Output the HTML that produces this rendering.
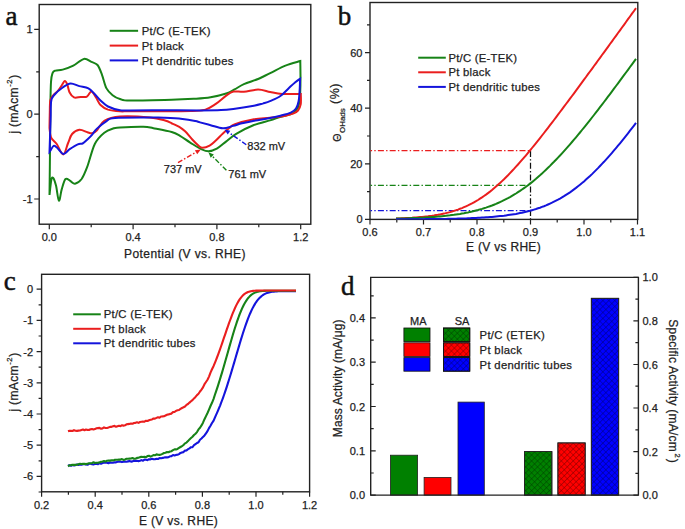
<!DOCTYPE html>
<html><head><meta charset="utf-8"><style>
html,body{margin:0;padding:0;background:#fff;width:685px;height:529px;overflow:hidden}
svg{display:block}
text{font-family:"Liberation Sans",sans-serif;fill:#222;stroke:#222;stroke-width:0.25px}
.serif{font-family:"Liberation Serif",serif;stroke-width:0.5px;fill:#111;stroke:#111}
</style></head><body>
<svg width="685" height="529" viewBox="0 0 685 529">
<rect width="685" height="529" fill="#fff"/>
<rect x="39.2" y="4.5" width="271.6" height="219.7" fill="none" stroke="#222" stroke-width="1.4"/>
<text x="49.3" y="240.6" font-size="11" text-anchor="middle" >0.0</text>
<text x="133.1" y="240.6" font-size="11" text-anchor="middle" >0.4</text>
<text x="216.9" y="240.6" font-size="11" text-anchor="middle" >0.8</text>
<text x="300.7" y="240.6" font-size="11" text-anchor="middle" >1.2</text>
<text x="32.5" y="203.0" font-size="11" text-anchor="end" >-1</text>
<text x="32.5" y="118.2" font-size="11" text-anchor="end" >0</text>
<text x="32.5" y="33.4" font-size="11" text-anchor="end" >1</text>
<path d="M49.3,224.2v5 M91.2,224.2v3 M133.1,224.2v5 M175.0,224.2v3 M216.9,224.2v5 M258.8,224.2v3 M300.7,224.2v5 M39.2,199.0h-5 M39.2,156.6h-3 M39.2,114.2h-5 M39.2,71.8h-3 M39.2,29.4h-5" stroke="#222" stroke-width="1.2" fill="none"/>
<text x="185" y="257.5" font-size="12" text-anchor="middle" letter-spacing="0.4">Potential (V vs. RHE)</text>
<text transform="translate(18.2,104) rotate(-90)" font-size="12" text-anchor="middle" letter-spacing="0.35">j (mAcm<tspan font-size="7.5" dy="-6" dx="0.5">-2</tspan><tspan dy="6" dx="0.5">)</tspan></text>
<text x="5.5" y="24.8" class="serif" font-size="27">a</text>
<line x1="109.7" y1="30.8" x2="138.1" y2="30.8" stroke="#178317" stroke-width="2"/>
<text x="141.8" y="34.9" font-size="11.3" text-anchor="start" letter-spacing="0.25">Pt/C (E-TEK)</text>
<line x1="109.7" y1="45.6" x2="138.1" y2="45.6" stroke="#ea1e1e" stroke-width="2"/>
<text x="141.8" y="49.7" font-size="11.3" text-anchor="start" letter-spacing="0.25">Pt black</text>
<line x1="109.7" y1="60.400000000000006" x2="138.1" y2="60.400000000000006" stroke="#1414dc" stroke-width="2"/>
<text x="141.8" y="64.5" font-size="11.3" text-anchor="start" letter-spacing="0.25">Pt dendritic tubes</text>
<path d="M49.5,195.0 C49.6,187.5 49.9,164.2 50.0,150.0 C50.1,135.8 50.1,121.3 50.3,110.0 C50.5,98.7 50.6,88.2 51.0,82.0 C51.4,75.8 51.9,74.9 52.6,73.0 C53.4,71.1 53.8,71.2 55.5,70.6 C57.2,70.0 59.7,70.4 62.7,69.6 C65.7,68.8 69.8,67.5 73.3,65.7 C76.8,63.9 80.9,59.5 83.9,58.9 C86.9,58.3 89.1,60.9 91.4,61.9 C93.7,62.9 95.7,62.9 97.5,65.0 C99.3,67.2 100.5,70.9 102.0,74.8 C103.5,78.7 104.7,85.0 106.5,88.4 C108.3,91.8 110.3,93.4 112.6,95.2 C114.8,97.0 117.1,98.1 120.0,99.0 C122.9,99.9 121.5,100.5 130.1,100.6 C138.7,100.7 160.9,100.1 171.7,99.8 C182.5,99.5 188.5,99.1 195.0,98.7 C201.5,98.3 205.4,98.1 210.6,97.2 C215.8,96.3 222.2,94.8 226.2,93.5 C230.2,92.2 231.6,91.0 234.5,89.4 C237.4,87.9 240.0,85.9 243.9,84.2 C247.8,82.5 253.7,80.8 258.1,79.0 C262.5,77.2 265.6,75.3 270.2,73.1 C274.8,70.9 280.4,67.6 285.4,65.6 C290.4,63.6 297.8,61.8 300.3,61.0 L300.3,61.0 C300.3,63.7 300.5,71.7 300.5,77.0 C300.5,82.3 300.4,88.5 300.2,93.0 C299.9,97.5 299.6,101.2 299.0,104.0 C298.4,106.8 297.8,108.3 296.5,110.0 C295.2,111.7 293.8,112.8 291.0,114.0 C288.2,115.2 283.5,115.9 280.0,117.0 C276.5,118.1 274.4,119.1 270.0,120.4 C265.6,121.7 259.5,122.8 253.9,125.0 C248.3,127.2 240.8,131.1 236.2,133.9 C231.5,136.7 229.2,139.1 226.0,141.6 C222.8,144.1 219.7,147.1 216.8,148.7 C213.9,150.3 211.3,151.3 208.6,151.3 C205.9,151.3 203.5,150.1 200.4,148.7 C197.3,147.2 193.6,144.7 190.2,142.6 C186.8,140.5 183.1,137.7 180.0,135.9 C176.9,134.1 176.1,133.3 171.7,132.0 C167.3,130.7 158.1,129.1 153.4,128.2 C148.7,127.3 149.0,126.9 143.4,126.8 C137.8,126.7 125.0,127.2 120.0,127.5 C115.0,127.8 116.3,127.4 113.7,128.3 C111.1,129.2 107.5,130.1 104.3,132.7 C101.1,135.3 97.6,138.3 94.8,144.0 C92.0,149.7 89.5,160.9 87.3,166.7 C85.1,172.5 83.6,176.2 81.6,179.0 C79.5,181.8 76.9,183.4 75.0,183.7 C73.1,184.0 71.8,181.7 70.2,180.9 C68.6,180.1 66.9,177.6 65.5,179.0 C64.1,180.4 62.8,185.8 61.7,189.4 C60.6,193.0 59.9,201.3 58.9,200.7 C57.9,200.1 57.0,189.4 56.0,185.6 C55.0,181.8 54.0,178.9 53.2,178.0 C52.4,177.1 51.9,177.2 51.3,180.0 C50.7,182.8 49.8,192.5 49.5,195.0Z" fill="none" stroke="#178317" stroke-width="2" stroke-linejoin="miter"/>
<path d="M49.5,128.0 C49.5,125.3 49.7,116.6 49.8,112.0 C49.9,107.4 49.8,103.2 50.3,100.5 C50.8,97.8 51.7,97.2 53.0,95.5 C54.3,93.8 56.6,92.4 58.1,90.6 C59.6,88.8 61.0,86.4 62.1,84.8 C63.2,83.2 63.9,81.1 64.7,81.0 C65.5,80.9 66.4,82.3 67.2,84.2 C68.0,86.1 68.4,90.0 69.5,92.2 C70.6,94.4 72.1,96.6 74.0,97.4 C75.9,98.2 78.6,97.0 80.8,96.9 C83.0,96.8 85.1,97.6 86.9,96.7 C88.7,95.8 89.9,91.3 91.4,91.4 C92.9,91.5 94.5,95.2 96.0,97.5 C97.5,99.8 98.5,103.0 100.5,105.0 C102.5,107.0 104.8,108.5 108.0,109.6 C111.2,110.6 115.7,111.0 120.0,111.3 C124.3,111.6 122.1,111.2 133.9,111.2 C145.7,111.2 178.7,111.3 190.6,111.0 C202.5,110.7 201.2,110.8 205.4,109.6 C209.6,108.4 212.3,106.2 215.8,103.9 C219.3,101.6 223.2,97.6 226.2,95.6 C229.1,93.5 230.6,92.2 233.5,91.6 C236.4,91.0 239.8,92.1 243.9,91.8 C248.0,91.5 253.7,89.5 258.1,89.5 C262.5,89.5 266.2,91.2 270.2,92.0 C274.2,92.8 277.2,93.7 282.3,94.0 C287.4,94.3 297.7,94.0 300.8,94.0 L300.8,94.0 C300.8,95.7 301.2,101.5 300.7,104.3 C300.2,107.0 299.3,108.9 298.0,110.5 C296.7,112.1 295.0,112.8 292.9,113.7 C290.8,114.6 289.4,115.0 285.6,115.7 C281.8,116.4 275.3,117.2 270.0,117.8 C264.7,118.4 259.7,118.2 253.9,119.3 C248.1,120.4 239.2,122.7 235.0,124.2 C230.8,125.7 231.0,126.8 229.0,128.3 C227.0,129.8 225.1,131.4 222.9,133.4 C220.7,135.4 218.0,138.5 215.8,140.5 C213.6,142.5 211.8,144.4 209.6,145.6 C207.4,146.8 204.4,147.7 202.5,147.7 C200.6,147.7 200.1,147.0 198.4,145.6 C196.7,144.2 194.5,141.9 192.3,139.5 C190.1,137.1 187.2,133.3 185.1,131.3 C183.0,129.3 182.2,128.6 180.0,127.3 C177.8,126.0 174.5,124.6 172.0,123.5 C169.5,122.4 168.7,121.5 165.0,120.5 C161.3,119.5 157.5,118.2 150.0,117.5 C142.5,116.8 127.6,116.0 120.0,116.5 C112.4,117.0 108.1,118.5 104.3,120.8 C100.5,123.1 99.0,128.1 97.0,130.2 C95.0,132.3 93.8,132.9 92.2,133.2 C90.6,133.5 89.5,132.8 87.4,132.2 C85.3,131.6 82.0,129.5 79.4,129.8 C76.9,130.1 74.0,131.8 72.1,134.0 C70.2,136.2 69.6,139.6 68.1,143.0 C66.6,146.4 65.2,154.3 63.3,154.5 C61.4,154.7 58.9,147.2 56.9,144.3 C54.9,141.5 52.2,140.1 51.0,137.4 C49.8,134.7 49.8,129.6 49.5,128.0Z" fill="none" stroke="#ea1e1e" stroke-width="2" stroke-linejoin="miter"/>
<path d="M49.5,152.0 C49.7,146.7 50.3,128.5 50.6,120.0 C50.9,111.5 50.5,105.2 51.2,101.0 C51.9,96.8 52.8,96.8 54.7,94.5 C56.6,92.2 60.1,89.3 62.7,87.5 C65.3,85.7 67.8,83.6 70.6,83.4 C73.4,83.2 76.3,85.3 79.3,86.1 C82.3,86.9 85.9,87.1 88.4,88.4 C90.9,89.7 92.4,91.7 94.4,93.7 C96.4,95.7 98.2,98.4 100.5,100.5 C102.8,102.6 104.8,104.9 108.0,106.5 C111.2,108.1 116.3,109.6 120.0,110.3 C123.7,111.0 122.5,110.4 130.0,110.4 C137.5,110.4 153.3,110.3 165.0,110.3 C176.7,110.3 190.7,110.4 200.0,110.4 C209.3,110.4 215.2,110.4 221.0,110.1 C226.8,109.8 229.5,109.4 235.0,108.7 C240.5,108.0 249.3,106.6 253.9,105.7 C258.5,104.8 260.0,104.3 262.7,103.6 C265.4,102.8 267.1,102.5 270.0,101.2 C272.9,99.9 277.3,98.2 280.4,96.0 C283.5,93.8 286.3,90.5 288.7,88.2 C291.1,86.0 293.1,84.1 295.0,82.5 C296.9,80.9 299.2,79.4 300.1,78.8 L300.1,78.8 C300.0,80.8 299.9,87.1 299.6,90.8 C299.4,94.5 299.2,98.2 298.6,101.2 C298.0,104.2 297.3,106.6 296.0,108.5 C294.7,110.4 293.4,111.4 290.8,112.6 C288.2,113.8 283.9,114.8 280.4,115.7 C276.9,116.6 274.4,117.2 270.0,118.0 C265.6,118.8 258.6,119.9 253.9,120.8 C249.2,121.7 245.3,122.4 241.8,123.3 C238.3,124.2 236.2,125.1 233.1,125.9 C229.9,126.7 226.7,128.4 222.9,128.3 C219.2,128.2 214.4,126.2 210.6,125.2 C206.8,124.2 202.6,123.1 200.0,122.4 C197.4,121.7 198.2,121.7 195.3,121.1 C192.4,120.5 187.6,119.5 182.5,118.9 C177.4,118.3 169.9,117.9 165.0,117.7 C160.1,117.5 161.1,117.5 152.8,117.6 C144.5,117.6 122.8,117.4 115.0,118.0 C107.2,118.6 109.2,119.5 106.2,121.3 C103.2,123.1 99.0,126.7 96.7,128.9 C94.4,131.1 93.8,132.8 92.2,134.6 C90.7,136.4 89.0,138.0 87.4,139.5 C85.8,141.0 84.2,142.7 82.6,143.5 C81.0,144.3 79.9,143.4 77.8,144.3 C75.7,145.2 72.1,147.5 69.7,149.1 C67.3,150.7 65.4,154.3 63.3,154.0 C61.2,153.7 58.5,148.8 56.9,147.5 C55.3,146.2 54.7,145.4 53.6,145.9 C52.5,146.4 51.2,149.5 50.5,150.5 C49.8,151.5 49.7,151.8 49.5,152.0Z" fill="none" stroke="#1414dc" stroke-width="2" stroke-linejoin="miter"/>
<line x1="178" y1="162.7" x2="196.0" y2="152.2" stroke="#ea1e1e" stroke-width="1.4" stroke-dasharray="5 2 1.5 2"/>
<path d="M200.8,149.4 L197.2,154.2 L194.9,150.2Z" fill="#ea1e1e"/>
<line x1="226.4" y1="170.3" x2="212.3" y2="156.2" stroke="#178317" stroke-width="1.4" stroke-dasharray="5 2 1.5 2"/>
<path d="M208.4,152.3 L213.9,154.6 L210.7,157.8Z" fill="#178317"/>
<line x1="246.3" y1="144.7" x2="229.0" y2="132.6" stroke="#1414dc" stroke-width="1.4" stroke-dasharray="5 2 1.5 2"/>
<path d="M224.5,129.5 L230.3,130.8 L227.7,134.5Z" fill="#1414dc"/>
<text x="163.8" y="173.1" font-size="11" text-anchor="start" >737 mV</text>
<text x="228.3" y="177.9" font-size="11" text-anchor="start" >761 mV</text>
<text x="247.3" y="150.4" font-size="11" text-anchor="start" >832 mV</text>
<rect x="370.0" y="2.5" width="267.79999999999995" height="216.9" fill="none" stroke="#222" stroke-width="1.4"/>
<text x="370.0" y="235.8" font-size="11" text-anchor="middle" >0.6</text>
<text x="423.5" y="235.8" font-size="11" text-anchor="middle" >0.7</text>
<text x="477.0" y="235.8" font-size="11" text-anchor="middle" >0.8</text>
<text x="530.5" y="235.8" font-size="11" text-anchor="middle" >0.9</text>
<text x="584.0" y="235.8" font-size="11" text-anchor="middle" >1.0</text>
<text x="637.5" y="235.8" font-size="11" text-anchor="middle" >1.1</text>
<text x="362.5" y="223.4" font-size="11" text-anchor="end" >0</text>
<text x="362.5" y="167.8" font-size="11" text-anchor="end" >20</text>
<text x="362.5" y="112.2" font-size="11" text-anchor="end" >40</text>
<text x="362.5" y="56.6" font-size="11" text-anchor="end" >60</text>
<path d="M370.0,219.4v5 M396.8,219.4v3 M423.5,219.4v5 M450.2,219.4v3 M477.0,219.4v5 M503.8,219.4v3 M530.5,219.4v5 M557.2,219.4v3 M584.0,219.4v5 M610.8,219.4v3 M637.5,219.4v5 M370.0,219.4h-5 M370.0,191.6h-3 M370.0,163.8h-5 M370.0,136.0h-3 M370.0,108.2h-5 M370.0,80.4h-3 M370.0,52.6h-5 M370.0,24.8h-3" stroke="#222" stroke-width="1.2" fill="none"/>
<text x="503.5" y="251.3" font-size="12" text-anchor="middle" letter-spacing="0.3">E (V vs RHE)</text>
<text transform="translate(340.6,112.3) rotate(-90)" font-size="12" text-anchor="middle"><tspan font-size="10.5">Θ</tspan><tspan font-size="8" dy="4" dx="0.5">OHads</tspan><tspan dy="-5.5" font-size="12.5" letter-spacing="0.6"> (%)</tspan></text>
<text x="337.8" y="24.6" class="serif" font-size="27">b</text>
<line x1="418.2" y1="57.7" x2="445.8" y2="57.7" stroke="#178317" stroke-width="2"/>
<text x="448.4" y="61.8" font-size="11.3" text-anchor="start" letter-spacing="0.25">Pt/C (E-TEK)</text>
<line x1="418.2" y1="72.3" x2="445.8" y2="72.3" stroke="#ea1e1e" stroke-width="2"/>
<text x="448.4" y="76.4" font-size="11.3" text-anchor="start" letter-spacing="0.25">Pt black</text>
<line x1="418.2" y1="86.9" x2="445.8" y2="86.9" stroke="#1414dc" stroke-width="2"/>
<text x="448.4" y="91.0" font-size="11.3" text-anchor="start" letter-spacing="0.25">Pt dendritic tubes</text>
<g stroke-width="1.25" stroke-dasharray="6 2.2 1.4 2.2" stroke-dashoffset="4.4" fill="none"><line x1="370.5" y1="150.6" x2="530.5" y2="150.6" stroke="#ea1e1e"/><line x1="370.5" y1="185.3" x2="530.5" y2="185.3" stroke="#178317"/><line x1="370.5" y1="210.5" x2="530.5" y2="210.5" stroke="#1414dc"/><line x1="530.5" y1="151" x2="530.5" y2="219" stroke="#111" stroke-dashoffset="0"/></g>
<clipPath id="clipb"><rect x="370" y="2.5" width="267.8" height="216.9"/></clipPath>
<path d="M396.0,218.6 L398.0,218.5 L400.0,218.4 L402.0,218.3 L404.0,218.2 L406.0,218.1 L408.0,218.0 L410.0,217.9 L412.0,217.8 L414.0,217.6 L416.0,217.5 L418.0,217.3 L420.0,217.1 L422.0,217.0 L424.0,216.7 L426.0,216.5 L428.0,216.3 L430.0,216.0 L432.0,215.8 L434.0,215.5 L436.0,215.1 L438.0,214.8 L440.0,214.4 L442.0,214.0 L444.0,213.6 L446.0,213.1 L448.0,212.6 L450.0,212.1 L452.0,211.5 L454.0,210.9 L456.0,210.3 L458.0,209.6 L460.0,208.8 L462.0,208.1 L464.0,207.2 L466.0,206.3 L468.0,205.4 L470.0,204.4 L472.0,203.4 L474.0,202.3 L476.0,201.2 L478.0,200.0 L480.0,198.7 L482.0,197.4 L484.0,196.0 L486.0,194.6 L488.0,193.1 L490.0,191.6 L492.0,190.0 L494.0,188.3 L496.0,186.6 L498.0,184.8 L500.0,183.0 L502.0,181.1 L504.0,179.2 L506.0,177.2 L508.0,175.2 L510.0,173.1 L512.0,171.0 L514.0,168.9 L516.0,166.7 L518.0,164.5 L520.0,162.2 L522.0,159.9 L524.0,157.6 L526.0,155.3 L528.0,152.9 L530.0,150.5 L532.0,148.0 L534.0,145.6 L536.0,143.1 L538.0,140.6 L540.0,138.1 L542.0,135.5 L544.0,133.0 L546.0,130.4 L548.0,127.8 L550.0,125.2 L552.0,122.6 L554.0,120.0 L556.0,117.3 L558.0,114.7 L560.0,112.0 L562.0,109.4 L564.0,106.7 L566.0,104.0 L568.0,101.4 L570.0,98.7 L572.0,96.0 L574.0,93.3 L576.0,90.6 L578.0,87.8 L580.0,85.1 L582.0,82.4 L584.0,79.7 L586.0,77.0 L588.0,74.2 L590.0,71.5 L592.0,68.8 L594.0,66.0 L596.0,63.3 L598.0,60.5 L600.0,57.8 L602.0,55.0 L604.0,52.3 L606.0,49.6 L608.0,46.8 L610.0,44.0 L612.0,41.3 L614.0,38.5 L616.0,35.8 L618.0,33.0 L620.0,30.3 L622.0,27.5 L624.0,24.8 L626.0,22.0 L628.0,19.2 L630.0,16.5 L632.0,13.7 L634.0,11.0 L636.0,8.2" fill="none" stroke="#ea1e1e" stroke-width="2" clip-path="url(#clipb)"/>
<path d="M396.0,218.6 L398.0,218.6 L400.0,218.5 L402.0,218.5 L404.0,218.4 L406.0,218.4 L408.0,218.3 L410.0,218.2 L412.0,218.1 L414.0,218.1 L416.0,218.0 L418.0,217.9 L420.0,217.8 L422.0,217.7 L424.0,217.6 L426.0,217.4 L428.0,217.3 L430.0,217.2 L432.0,217.0 L434.0,216.9 L436.0,216.7 L438.0,216.6 L440.0,216.4 L442.0,216.2 L444.0,216.0 L446.0,215.8 L448.0,215.5 L450.0,215.3 L452.0,215.0 L454.0,214.8 L456.0,214.5 L458.0,214.2 L460.0,213.9 L462.0,213.5 L464.0,213.2 L466.0,212.8 L468.0,212.4 L470.0,211.9 L472.0,211.5 L474.0,211.0 L476.0,210.5 L478.0,210.0 L480.0,209.4 L482.0,208.9 L484.0,208.2 L486.0,207.6 L488.0,206.9 L490.0,206.2 L492.0,205.5 L494.0,204.7 L496.0,203.9 L498.0,203.0 L500.0,202.1 L502.0,201.2 L504.0,200.2 L506.0,199.2 L508.0,198.2 L510.0,197.1 L512.0,195.9 L514.0,194.7 L516.0,193.5 L518.0,192.2 L520.0,190.9 L522.0,189.5 L524.0,188.1 L526.0,186.7 L528.0,185.2 L530.0,183.6 L532.0,182.1 L534.0,180.4 L536.0,178.8 L538.0,177.0 L540.0,175.3 L542.0,173.5 L544.0,171.6 L546.0,169.7 L548.0,167.8 L550.0,165.9 L552.0,163.8 L554.0,161.8 L556.0,159.7 L558.0,157.6 L560.0,155.5 L562.0,153.3 L564.0,151.1 L566.0,148.9 L568.0,146.6 L570.0,144.3 L572.0,142.0 L574.0,139.6 L576.0,137.3 L578.0,134.9 L580.0,132.5 L582.0,130.0 L584.0,127.6 L586.0,125.1 L588.0,122.6 L590.0,120.1 L592.0,117.5 L594.0,115.0 L596.0,112.4 L598.0,109.8 L600.0,107.2 L602.0,104.6 L604.0,102.0 L606.0,99.4 L608.0,96.7 L610.0,94.1 L612.0,91.4 L614.0,88.7 L616.0,86.0 L618.0,83.4 L620.0,80.7 L622.0,77.9 L624.0,75.2 L626.0,72.5 L628.0,69.8 L630.0,67.0 L632.0,64.3 L634.0,61.6 L636.0,58.8" fill="none" stroke="#178317" stroke-width="2" clip-path="url(#clipb)"/>
<path d="M396.0,219.3 L398.0,219.3 L400.0,219.3 L402.0,219.3 L404.0,219.3 L406.0,219.3 L408.0,219.3 L410.0,219.2 L412.0,219.2 L414.0,219.2 L416.0,219.2 L418.0,219.2 L420.0,219.2 L422.0,219.2 L424.0,219.2 L426.0,219.1 L428.0,219.1 L430.0,219.1 L432.0,219.1 L434.0,219.0 L436.0,219.0 L438.0,219.0 L440.0,219.0 L442.0,218.9 L444.0,218.9 L446.0,218.9 L448.0,218.8 L450.0,218.8 L452.0,218.8 L454.0,218.7 L456.0,218.7 L458.0,218.6 L460.0,218.5 L462.0,218.5 L464.0,218.4 L466.0,218.4 L468.0,218.3 L470.0,218.2 L472.0,218.1 L474.0,218.0 L476.0,217.9 L478.0,217.8 L480.0,217.7 L482.0,217.6 L484.0,217.5 L486.0,217.3 L488.0,217.2 L490.0,217.0 L492.0,216.9 L494.0,216.7 L496.0,216.5 L498.0,216.3 L500.0,216.1 L502.0,215.9 L504.0,215.7 L506.0,215.4 L508.0,215.1 L510.0,214.8 L512.0,214.5 L514.0,214.2 L516.0,213.9 L518.0,213.5 L520.0,213.1 L522.0,212.7 L524.0,212.2 L526.0,211.8 L528.0,211.3 L530.0,210.8 L532.0,210.2 L534.0,209.6 L536.0,209.0 L538.0,208.3 L540.0,207.7 L542.0,206.9 L544.0,206.2 L546.0,205.4 L548.0,204.5 L550.0,203.6 L552.0,202.7 L554.0,201.7 L556.0,200.7 L558.0,199.7 L560.0,198.6 L562.0,197.4 L564.0,196.2 L566.0,194.9 L568.0,193.6 L570.0,192.3 L572.0,190.9 L574.0,189.4 L576.0,187.9 L578.0,186.3 L580.0,184.7 L582.0,183.1 L584.0,181.4 L586.0,179.6 L588.0,177.8 L590.0,176.0 L592.0,174.1 L594.0,172.1 L596.0,170.1 L598.0,168.1 L600.0,166.0 L602.0,163.9 L604.0,161.8 L606.0,159.6 L608.0,157.3 L610.0,155.1 L612.0,152.8 L614.0,150.4 L616.0,148.1 L618.0,145.7 L620.0,143.3 L622.0,140.8 L624.0,138.3 L626.0,135.8 L628.0,133.3 L630.0,130.7 L632.0,128.2 L634.0,125.6 L636.0,122.9" fill="none" stroke="#1414dc" stroke-width="2" clip-path="url(#clipb)"/>
<rect x="41.6" y="274.3" width="268.0" height="217.5" fill="none" stroke="#222" stroke-width="1.4"/>
<text x="41.6" y="508.5" font-size="11" text-anchor="middle" >0.2</text>
<text x="95.2" y="508.5" font-size="11" text-anchor="middle" >0.4</text>
<text x="148.8" y="508.5" font-size="11" text-anchor="middle" >0.6</text>
<text x="202.4" y="508.5" font-size="11" text-anchor="middle" >0.8</text>
<text x="256.0" y="508.5" font-size="11" text-anchor="middle" >1.0</text>
<text x="309.6" y="508.5" font-size="11" text-anchor="middle" >1.2</text>
<text x="33" y="293.2" font-size="11" text-anchor="end" >0</text>
<text x="33" y="324.4" font-size="11" text-anchor="end" >-1</text>
<text x="33" y="355.6" font-size="11" text-anchor="end" >-2</text>
<text x="33" y="386.8" font-size="11" text-anchor="end" >-3</text>
<text x="33" y="418.0" font-size="11" text-anchor="end" >-4</text>
<text x="33" y="449.2" font-size="11" text-anchor="end" >-5</text>
<text x="33" y="480.4" font-size="11" text-anchor="end" >-6</text>
<path d="M41.6,491.8v5 M68.4,491.8v3 M95.2,491.8v5 M122.0,491.8v3 M148.8,491.8v5 M175.6,491.8v3 M202.4,491.8v5 M229.2,491.8v3 M256.0,491.8v5 M282.8,491.8v3 M309.6,491.8v5 M41.6,289.2h-5 M41.6,304.8h-3 M41.6,320.4h-5 M41.6,336.0h-3 M41.6,351.6h-5 M41.6,367.2h-3 M41.6,382.8h-5 M41.6,398.4h-3 M41.6,414.0h-5 M41.6,429.6h-3 M41.6,445.2h-5 M41.6,460.8h-3 M41.6,476.4h-5 M41.6,492.0h-3" stroke="#222" stroke-width="1.2" fill="none"/>
<text x="178.5" y="524.7" font-size="12" text-anchor="middle" letter-spacing="0.35">E (V vs. RHE)</text>
<text transform="translate(18.0,382) rotate(-90)" font-size="12" text-anchor="middle" letter-spacing="0.35">j (mAcm<tspan font-size="7.5" dy="-6" dx="0.5">-2</tspan><tspan dy="6" dx="0.5">)</tspan></text>
<text x="3.8" y="289.8" class="serif" font-size="27">c</text>
<line x1="73.2" y1="314.3" x2="100.8" y2="314.3" stroke="#178317" stroke-width="2"/>
<text x="103.8" y="318.4" font-size="11.3" text-anchor="start" letter-spacing="0.25">Pt/C (E-TEK)</text>
<line x1="73.2" y1="328.8" x2="100.8" y2="328.8" stroke="#ea1e1e" stroke-width="2"/>
<text x="103.8" y="332.9" font-size="11.3" text-anchor="start" letter-spacing="0.25">Pt black</text>
<line x1="73.2" y1="343.3" x2="100.8" y2="343.3" stroke="#1414dc" stroke-width="2"/>
<text x="103.8" y="347.4" font-size="11.3" text-anchor="start" letter-spacing="0.25">Pt dendritic tubes</text>
<path d="M68.0,465.6 L69.5,465.3 L71.0,465.8 L72.5,465.0 L74.0,465.4 L75.5,465.1 L77.0,464.6 L78.5,465.0 L80.0,464.4 L81.5,464.7 L83.0,464.2 L84.5,464.1 L86.0,464.4 L87.5,464.8 L89.0,463.8 L90.5,463.8 L92.0,464.2 L93.5,464.5 L95.0,463.9 L96.5,463.6 L98.0,464.2 L99.5,463.0 L101.0,463.8 L102.5,463.0 L104.0,462.8 L105.5,462.6 L107.0,462.7 L108.5,463.2 L110.0,462.4 L111.5,462.8 L113.0,462.7 L114.5,462.3 L116.0,462.4 L117.5,461.7 L119.0,461.6 L120.5,461.7 L122.0,462.1 L123.5,461.7 L125.0,461.5 L126.5,461.7 L128.0,461.4 L129.5,461.1 L131.0,461.6 L132.5,461.4 L134.0,460.7 L135.5,461.0 L137.0,460.8 L138.5,461.1 L140.0,460.8 L141.5,460.1 L143.0,460.8 L144.5,459.6 L146.0,459.8 L147.5,460.1 L149.0,459.2 L150.5,459.4 L152.0,458.7 L153.5,459.3 L155.0,459.2 L156.5,458.8 L158.0,459.0 L159.5,458.1 L161.0,458.3 L162.5,457.9 L164.0,457.6 L165.5,457.2 L167.0,457.4 L168.5,457.2 L170.0,456.3 L171.5,456.1 L173.0,455.0 L174.5,455.4 L176.0,454.9 L177.5,454.8 L179.0,454.1 L180.5,452.9 L182.0,452.4 L183.5,452.1 L185.0,450.6 L186.5,450.4 L188.0,449.2 L189.5,448.3 L191.0,447.2 L192.5,447.1 L194.0,445.2 L195.5,444.1 L197.0,443.0 L198.5,442.2 L200.0,439.7 L201.5,438.5 L203.0,436.9 L204.5,435.4 L206.0,433.3 L207.5,431.1 L209.0,428.1 L210.5,425.8 L212.0,423.0 L213.5,420.8 L215.0,417.3 L216.0,415.1 L217.0,412.9 L218.0,410.6 L219.0,408.2 L220.0,405.8 L221.0,403.2 L222.0,400.5 L223.0,397.8 L224.0,395.0 L225.0,392.1 L226.0,389.1 L227.0,386.1 L228.0,382.9 L229.0,379.8 L230.0,376.5 L231.0,373.2 L232.0,369.9 L233.0,366.5 L234.0,363.1 L235.0,359.7 L236.0,356.3 L237.0,352.9 L238.0,349.5 L239.0,346.1 L240.0,342.7 L241.0,339.4 L242.0,336.2 L243.0,333.0 L244.0,330.0 L245.0,327.0 L246.0,324.1 L247.0,321.3 L248.0,318.6 L249.0,316.1 L250.0,313.7 L251.0,311.5 L252.0,309.4 L253.0,307.4 L254.0,305.6 L255.0,303.9 L256.0,302.3 L257.0,300.9 L258.0,299.6 L259.0,298.5 L260.0,297.5 L261.0,296.6 L262.0,295.8 L263.0,295.0 L264.0,294.4 L265.0,293.9 L266.0,293.4 L267.0,293.0 L268.0,292.7 L269.0,292.4 L270.0,292.2 L271.0,292.0 L272.0,291.8 L273.0,291.7 L274.0,291.6 L275.0,291.5 L276.0,291.4 L277.0,291.4 L278.0,291.3 L279.0,291.3 L280.0,291.3 L281.0,291.2 L282.0,291.2 L283.0,291.2 L284.0,291.2 L285.0,291.2 L286.0,291.2 L287.0,291.2 L288.0,291.2 L289.0,291.2 L290.0,291.2 L291.0,291.2 L292.0,291.2 L293.0,291.2 L294.0,291.2 L295.0,291.2 L296.0,291.2" fill="none" stroke="#1414dc" stroke-width="2.1" stroke-linejoin="round"/>
<path d="M68.0,466.4 L69.5,465.2 L71.0,465.1 L72.5,464.9 L74.0,464.7 L75.5,464.9 L77.0,464.8 L78.5,464.2 L80.0,463.7 L81.5,464.0 L83.0,463.8 L84.5,463.9 L86.0,464.1 L87.5,463.7 L89.0,463.3 L90.5,463.2 L92.0,463.1 L93.5,462.2 L95.0,463.0 L96.5,462.7 L98.0,462.7 L99.5,462.4 L101.0,461.8 L102.5,461.6 L104.0,461.1 L105.5,461.6 L107.0,460.7 L108.5,460.6 L110.0,460.6 L111.5,460.4 L113.0,460.4 L114.5,459.9 L116.0,459.7 L117.5,459.7 L119.0,459.5 L120.5,459.6 L122.0,459.1 L123.5,459.9 L125.0,459.4 L126.5,458.7 L128.0,458.7 L129.5,458.6 L131.0,458.5 L132.5,458.0 L134.0,458.7 L135.5,458.7 L137.0,457.9 L138.5,457.7 L140.0,457.1 L141.5,456.9 L143.0,457.0 L144.5,456.7 L146.0,457.2 L147.5,456.1 L149.0,455.7 L150.5,456.6 L152.0,455.9 L153.5,455.1 L155.0,455.3 L156.5,454.4 L158.0,454.7 L159.5,454.9 L161.0,454.5 L162.5,453.9 L164.0,453.0 L165.5,452.7 L167.0,452.0 L168.5,452.3 L170.0,451.5 L171.5,451.2 L173.0,450.1 L174.5,449.4 L176.0,449.4 L177.5,448.9 L179.0,447.9 L180.5,447.0 L182.0,446.1 L183.5,445.0 L185.0,443.4 L186.5,442.6 L188.0,441.1 L189.5,439.4 L191.0,438.0 L192.5,436.7 L194.0,435.0 L195.5,433.7 L197.0,432.1 L198.5,429.4 L200.0,427.7 L201.5,425.4 L203.0,422.7 L204.5,419.2 L206.0,416.1 L207.5,413.0 L209.0,409.6 L210.5,406.0 L212.0,402.8 L213.5,399.1 L215.0,394.5 L216.0,391.6 L217.0,388.6 L218.0,385.6 L219.0,382.4 L220.0,379.2 L221.0,375.9 L222.0,372.6 L223.0,369.2 L224.0,365.7 L225.0,362.3 L226.0,358.7 L227.0,355.2 L228.0,351.7 L229.0,348.1 L230.0,344.6 L231.0,341.2 L232.0,337.7 L233.0,334.3 L234.0,331.0 L235.0,327.8 L236.0,324.7 L237.0,321.7 L238.0,318.8 L239.0,316.0 L240.0,313.4 L241.0,311.0 L242.0,308.7 L243.0,306.5 L244.0,304.5 L245.0,302.7 L246.0,301.1 L247.0,299.6 L248.0,298.2 L249.0,297.1 L250.0,296.0 L251.0,295.1 L252.0,294.3 L253.0,293.7 L254.0,293.1 L255.0,292.6 L256.0,292.2 L257.0,291.9 L258.0,291.6 L259.0,291.4 L260.0,291.3 L261.0,291.1 L262.0,291.0 L263.0,291.0 L264.0,290.9 L265.0,290.9 L266.0,290.8 L267.0,290.8 L268.0,290.8 L269.0,290.8 L270.0,290.8 L271.0,290.8 L272.0,290.8 L273.0,290.8 L274.0,290.8 L275.0,290.8 L276.0,290.8 L277.0,290.8 L278.0,290.8 L279.0,290.8 L280.0,290.8 L281.0,290.8 L282.0,290.8 L283.0,290.8 L284.0,290.8 L285.0,290.8 L286.0,290.8 L287.0,290.8 L288.0,290.8 L289.0,290.8 L290.0,290.8 L291.0,290.8 L292.0,290.8 L293.0,290.8 L294.0,290.8 L295.0,290.8 L296.0,290.8" fill="none" stroke="#178317" stroke-width="2.1" stroke-linejoin="round"/>
<path d="M68.0,431.3 L69.5,430.8 L71.0,430.9 L72.5,431.0 L74.0,430.1 L75.5,430.7 L77.0,430.9 L78.5,430.6 L80.0,430.5 L81.5,430.0 L83.0,429.5 L84.5,430.2 L86.0,429.5 L87.5,429.9 L89.0,430.0 L90.5,429.2 L92.0,429.0 L93.5,429.5 L95.0,429.1 L96.5,428.3 L98.0,428.1 L99.5,427.9 L101.0,428.7 L102.5,428.4 L104.0,427.4 L105.5,428.0 L107.0,428.0 L108.5,427.5 L110.0,426.9 L111.5,426.9 L113.0,426.2 L114.5,425.9 L116.0,426.8 L117.5,426.2 L119.0,425.8 L120.5,426.1 L122.0,425.3 L123.5,425.6 L125.0,425.3 L126.5,424.3 L128.0,424.1 L129.5,423.9 L131.0,423.5 L132.5,423.7 L134.0,423.0 L135.5,422.9 L137.0,422.3 L138.5,422.9 L140.0,422.0 L141.5,421.8 L143.0,421.6 L144.5,421.7 L146.0,420.7 L147.5,421.0 L149.0,420.2 L150.5,419.8 L152.0,419.4 L153.5,418.5 L155.0,418.6 L156.5,417.9 L158.0,417.2 L159.5,417.7 L161.0,416.5 L162.5,416.4 L164.0,416.2 L165.5,415.5 L167.0,414.7 L168.5,414.4 L170.0,413.9 L171.5,413.6 L173.0,412.1 L174.5,412.0 L176.0,410.9 L177.5,410.2 L179.0,410.0 L180.5,408.9 L182.0,408.0 L183.5,407.3 L185.0,406.5 L186.5,404.9 L188.0,404.0 L189.5,402.6 L191.0,401.3 L192.5,400.1 L194.0,398.4 L195.5,396.9 L197.0,395.1 L198.5,393.8 L200.0,391.5 L201.5,389.6 L203.0,387.4 L204.5,384.2 L206.0,382.0 L207.5,379.7 L209.0,376.6 L210.5,372.6 L212.0,369.3 L213.5,366.2 L215.0,362.6 L216.0,360.1 L217.0,357.5 L218.0,354.8 L219.0,352.1 L220.0,349.3 L221.0,346.5 L222.0,343.6 L223.0,340.7 L224.0,337.7 L225.0,334.8 L226.0,331.9 L227.0,328.9 L228.0,326.1 L229.0,323.2 L230.0,320.5 L231.0,317.8 L232.0,315.1 L233.0,312.6 L234.0,310.3 L235.0,308.0 L236.0,305.9 L237.0,303.9 L238.0,302.1 L239.0,300.4 L240.0,298.9 L241.0,297.6 L242.0,296.4 L243.0,295.3 L244.0,294.4 L245.0,293.7 L246.0,293.0 L247.0,292.5 L248.0,292.0 L249.0,291.7 L250.0,291.4 L251.0,291.2 L252.0,291.0 L253.0,290.9 L254.0,290.8 L255.0,290.7 L256.0,290.6 L257.0,290.6 L258.0,290.6 L259.0,290.6 L260.0,290.5 L261.0,290.5 L262.0,290.5 L263.0,290.5 L264.0,290.5 L265.0,290.5 L266.0,290.5 L267.0,290.5 L268.0,290.5 L269.0,290.5 L270.0,290.5 L271.0,290.5 L272.0,290.5 L273.0,290.5 L274.0,290.5 L275.0,290.5 L276.0,290.5 L277.0,290.5 L278.0,290.5 L279.0,290.5 L280.0,290.5 L281.0,290.5 L282.0,290.5 L283.0,290.5 L284.0,290.5 L285.0,290.5 L286.0,290.5 L287.0,290.5 L288.0,290.5 L289.0,290.5 L290.0,290.5 L291.0,290.5 L292.0,290.5 L293.0,290.5 L294.0,290.5 L295.0,290.5 L296.0,290.5" fill="none" stroke="#ea1e1e" stroke-width="2.1" stroke-linejoin="round"/>
<defs><pattern id="hatch" width="4.2" height="4.2" patternUnits="userSpaceOnUse" patternTransform="rotate(45)"><path d="M0,0h4.2M0,0v4.2" stroke="#000" stroke-opacity="0.5" stroke-width="1"/></pattern></defs>
<rect x="390.4" y="455.2" width="27.2" height="39.9" fill="#008000" stroke="#222" stroke-width="0.8"/>
<rect x="424.1" y="477.4" width="26.9" height="17.7" fill="#ff0000" stroke="#222" stroke-width="0.8"/>
<rect x="458.0" y="402.1" width="26.3" height="93.0" fill="#0000ff" stroke="#222" stroke-width="0.8"/>
<rect x="524.4" y="451.6" width="27.5" height="43.5" fill="#008000" stroke="#222" stroke-width="0.8"/>
<rect x="524.4" y="451.6" width="27.5" height="43.5" fill="url(#hatch)" stroke="#222" stroke-width="0.8"/>
<rect x="557.9" y="442.9" width="27.3" height="52.2" fill="#ff0000" stroke="#222" stroke-width="0.8"/>
<rect x="557.9" y="442.9" width="27.3" height="52.2" fill="url(#hatch)" stroke="#222" stroke-width="0.8"/>
<rect x="591.3" y="298.3" width="27.4" height="196.8" fill="#0000ff" stroke="#222" stroke-width="0.8"/>
<rect x="591.3" y="298.3" width="27.4" height="196.8" fill="url(#hatch)" stroke="#222" stroke-width="0.8"/>
<path d="M370.7,277.4H638.4V495.1H370.7Z" fill="none" stroke="#222" stroke-width="1.4"/>
<text x="365" y="499.1" font-size="11" text-anchor="end" >0.0</text>
<text x="365" y="454.8" font-size="11" text-anchor="end" >0.1</text>
<text x="365" y="410.5" font-size="11" text-anchor="end" >0.2</text>
<text x="365" y="366.2" font-size="11" text-anchor="end" >0.3</text>
<text x="365" y="321.9" font-size="11" text-anchor="end" >0.4</text>
<text x="642.5" y="499.1" font-size="11" text-anchor="start" >0.0</text>
<text x="642.5" y="455.6" font-size="11" text-anchor="start" >0.2</text>
<text x="642.5" y="412.0" font-size="11" text-anchor="start" >0.4</text>
<text x="642.5" y="368.5" font-size="11" text-anchor="start" >0.6</text>
<text x="642.5" y="324.9" font-size="11" text-anchor="start" >0.8</text>
<text x="642.5" y="281.4" font-size="11" text-anchor="start" >1.0</text>
<path d="M370.7,495.1h5 M370.7,473.0h3 M370.7,450.8h5 M370.7,428.7h3 M370.7,406.5h5 M370.7,384.4h3 M370.7,362.2h5 M370.7,340.1h3 M370.7,317.9h5 M370.7,295.8h3 M638.4,495.1h-5 M638.4,473.3h-3 M638.4,451.6h-5 M638.4,429.8h-3 M638.4,408.0h-5 M638.4,386.2h-3 M638.4,364.5h-5 M638.4,342.7h-3 M638.4,320.9h-5 M638.4,299.2h-3 M638.4,277.4h-5" stroke="#222" stroke-width="1.2" fill="none"/>
<text transform="translate(341.6,378.3) rotate(-90)" font-size="12" text-anchor="middle" letter-spacing="0.1">Mass Activity (mA/μg)</text>
<text transform="translate(669.3,391.2) rotate(90)" font-size="12" text-anchor="middle" letter-spacing="0.22">Specific Activity (mA/cm<tspan font-size="7.5" dy="-6" dx="1.5">2</tspan><tspan dy="6" dx="1">)</tspan></text>
<text x="341" y="294.7" class="serif" font-size="27">d</text>
<text x="418.3" y="324.5" font-size="11" text-anchor="middle" >MA</text>
<text x="462" y="324.5" font-size="11" text-anchor="middle" >SA</text>
<rect x="403.9" y="328.0" width="26.1" height="13.6" fill="#008000" stroke="#111" stroke-width="0.8"/>
<rect x="443.4" y="328.0" width="26.4" height="13.6" fill="#008000" stroke="#111" stroke-width="0.8"/>
<rect x="443.4" y="328.0" width="26.4" height="13.6" fill="url(#hatch)" stroke="#111" stroke-width="0.8"/>
<text x="479.6" y="339.2" font-size="11.3" text-anchor="start" letter-spacing="0.3">Pt/C (ETEK)</text>
<rect x="403.9" y="342.8" width="26.1" height="13.6" fill="#ff0000" stroke="#111" stroke-width="0.8"/>
<rect x="443.4" y="342.8" width="26.4" height="13.6" fill="#ff0000" stroke="#111" stroke-width="0.8"/>
<rect x="443.4" y="342.8" width="26.4" height="13.6" fill="url(#hatch)" stroke="#111" stroke-width="0.8"/>
<text x="479.6" y="354.0" font-size="11.3" text-anchor="start" letter-spacing="0.3">Pt black</text>
<rect x="403.9" y="357.6" width="26.1" height="13.6" fill="#0000ff" stroke="#111" stroke-width="0.8"/>
<rect x="443.4" y="357.6" width="26.4" height="13.6" fill="#0000ff" stroke="#111" stroke-width="0.8"/>
<rect x="443.4" y="357.6" width="26.4" height="13.6" fill="url(#hatch)" stroke="#111" stroke-width="0.8"/>
<text x="479.6" y="368.8" font-size="11.3" text-anchor="start" letter-spacing="0.3">Pt dendritic tubes</text>
</svg></body></html>
